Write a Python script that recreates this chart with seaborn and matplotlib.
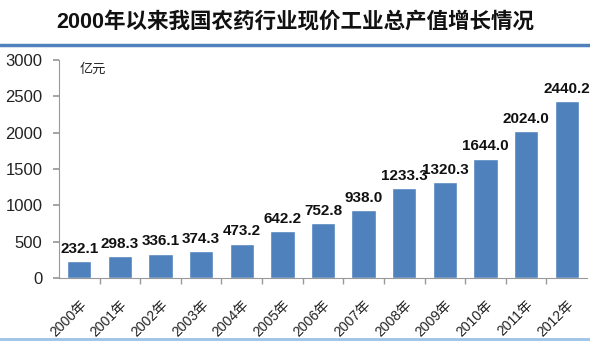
import matplotlib
matplotlib.use("Agg")
import matplotlib.pyplot as plt
import seaborn as sns
import pandas as pd
from matplotlib.lines import Line2D

years = ["2000年", "2001年", "2002年", "2003年", "2004年", "2005年", "2006年",
         "2007年", "2008年", "2009年", "2010年", "2011年", "2012年"]
values = [232.1, 298.3, 336.1, 374.3, 473.2, 642.2, 752.8,
          938.0, 1233.3, 1320.3, 1644.0, 2024.0, 2440.2]
yticks = [0, 500, 1000, 1500, 2000, 2500, 3000]
title = "2000年以来我国农药行业现价工业总产值增长情况"
unit = "亿元"

sns.set_theme(style="white")
plt.rcParams['font.family'] = ['Liberation Sans', 'Noto Sans CJK SC', 'DejaVu Sans']

df = pd.DataFrame({"year": years, "value": values})

fig = plt.figure(figsize=(5.9, 3.41), dpi=100)
ax = fig.add_axes([0.1, 0.185, 0.895, 0.639])
sns.barplot(data=df, x="year", y="value", color="#4F81BD", saturation=1,
            width=0.6, ax=ax)

ax.set_xlim(-0.5, len(years) - 0.5)
ax.set_ylim(0, 3000)
ax.set_yticks(yticks)
ax.set_yticklabels([str(t) for t in yticks], fontsize=12, color="#222222")
ax.set_xlabel("")
ax.set_ylabel("")

for sp in ["top", "right"]:
    ax.spines[sp].set_visible(False)
for sp in ["left", "bottom"]:
    ax.spines[sp].set_color("#999999")
    ax.spines[sp].set_linewidth(0.8)

ax.tick_params(axis="y", left=True, length=4, color="#999999", pad=8)
ax.set_xticks(range(len(years)))
ax.set_xticklabels(years, rotation=45, ha="right", rotation_mode="anchor",
                   fontsize=10, color="#222222",
                   family=['Liberation Sans', 'Noto Sans CJK SC'])
ax.tick_params(axis="x", bottom=False, pad=8)
# tick marks between categories
ax.set_xticks([i + 0.5 for i in range(len(years) - 1)], minor=True)
ax.tick_params(axis="x", which="minor", bottom=True, length=4, color="#999999")

for i, v in enumerate(values):
    ax.text(i, v + 70, f"{v:.1f}", ha="center", va="bottom", fontsize=11,
            fontweight="bold", color="#111111")

ax.text(0.0, 2960, unit, ha="left", va="top", fontsize=9.5,
        family=['Noto Sans CJK SC'], color="#222222")

fig.text(0.5, 0.935, title, ha="center", va="center", fontsize=15.5,
         fontweight="bold", family=['Liberation Sans', 'Noto Sans CJK SC'],
         color="#111111")

fig.add_artist(Line2D([0, 1], [1 - 45 / 341, 1 - 45 / 341], transform=fig.transFigure,
                      color="#4F81BD", linewidth=2.5))
fig.add_artist(Line2D([0, 1], [1 - 339 / 341, 1 - 339 / 341], transform=fig.transFigure,
                      color="#9DC3E6", linewidth=2))

fig.savefig("out.png", dpi=100)
